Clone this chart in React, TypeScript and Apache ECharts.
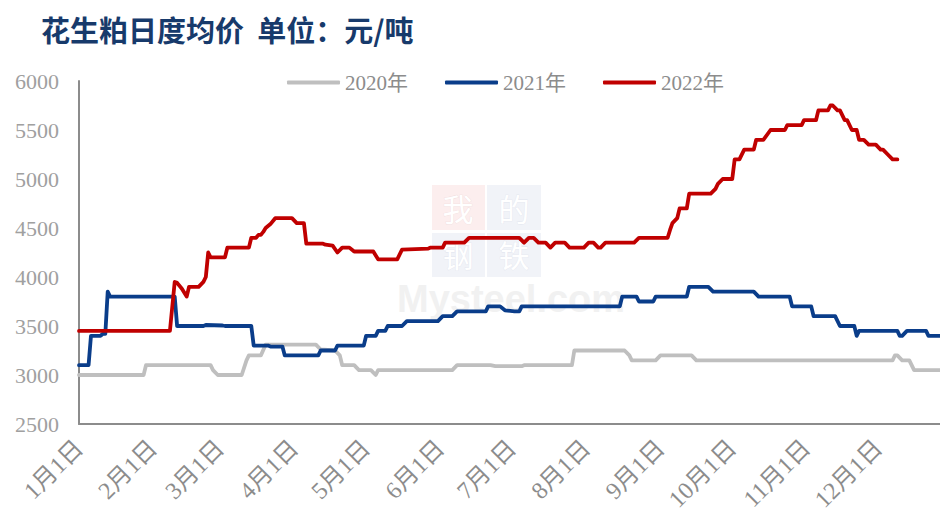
import React, { useEffect, useRef } from "react";
import * as echarts from "echarts";

// Category axis: every day of the year, labelled "M月D日"
const monthLengths = [31, 28, 31, 30, 31, 30, 31, 31, 30, 31, 30, 31];
const dayLabels: string[] = [];
monthLengths.forEach((len, m) => {
  for (let d = 1; d <= len; d++) dayLabels.push(`${m + 1}月${d}日`);
});

const yTicks = { min: 2500, max: 6000, interval: 500 };
const seriesNames = ["2020年", "2021年", "2022年"];

// 2020 (day-of-year index, price) read at visible change points
const days2020 = [0, 27, 28, 55, 56, 58, 68, 70, 71, 76, 78, 99, 101, 107, 109, 110, 115, 117, 122, 124, 125, 156, 158, 172, 174, 185, 186, 206, 207, 228, 230, 231, 241, 243, 256, 258, 340, 341, 342, 344, 347, 349, 364];
const vals2020 = [3000, 3000, 3100, 3100, 3050, 3000, 3000, 3150, 3200, 3200, 3310, 3310, 3260, 3250, 3200, 3100, 3100, 3050, 3050, 3000, 3050, 3050, 3100, 3100, 3090, 3090, 3100, 3100, 3250, 3250, 3200, 3150, 3150, 3200, 3200, 3150, 3150, 3200, 3200, 3150, 3150, 3050, 3050];

// 2021
const days2021 = [0, 4, 5, 9, 10, 11, 12, 13, 40, 41, 52, 53, 60, 61, 72, 73, 79, 80, 85, 86, 100, 101, 107, 108, 119, 120, 124, 125, 128, 129, 135, 137, 150, 152, 156, 158, 170, 171, 176, 178, 182, 184, 185, 226, 227, 233, 234, 240, 241, 254, 255, 263, 265, 282, 284, 297, 298, 306, 307, 316, 318, 324, 325, 326, 342, 343, 344, 346, 354, 355, 364];
const vals2021 = [3100, 3100, 3400, 3400, 3420, 3420, 3850, 3800, 3800, 3500, 3500, 3510, 3505, 3500, 3500, 3300, 3300, 3290, 3290, 3200, 3200, 3250, 3250, 3300, 3300, 3400, 3400, 3450, 3450, 3500, 3500, 3550, 3550, 3600, 3600, 3650, 3650, 3700, 3700, 3660, 3650, 3650, 3700, 3700, 3800, 3800, 3750, 3750, 3800, 3800, 3900, 3900, 3850, 3850, 3800, 3800, 3700, 3700, 3600, 3600, 3500, 3500, 3400, 3450, 3450, 3400, 3400, 3450, 3450, 3400, 3400];

// 2022
const days2022 = [0, 38, 40, 41, 43, 45, 46, 50, 52, 53, 54, 55, 61, 62, 71, 72, 74, 75, 76, 77, 78, 80, 82, 89, 91, 94, 95, 102, 103, 106, 108, 110, 113, 115, 123, 125, 133, 135, 146, 147, 152, 153, 161, 163, 184, 186, 188, 190, 192, 195, 197, 199, 203, 205, 211, 213, 215, 217, 218, 220, 232, 234, 246, 247, 248, 250, 251, 254, 255, 264, 266, 267, 269, 273, 274, 276, 278, 282, 283, 286, 289, 295, 296, 302, 303, 308, 309, 313, 314, 315, 317, 318, 320, 321, 323, 325, 326, 328, 330, 333, 335, 336, 338, 340, 342];
const vals2022 = [3450, 3450, 3950, 3940, 3880, 3800, 3900, 3900, 3950, 4000, 4250, 4200, 4200, 4300, 4300, 4400, 4400, 4430, 4430, 4460, 4500, 4540, 4600, 4600, 4550, 4550, 4340, 4340, 4330, 4320, 4250, 4300, 4300, 4260, 4260, 4180, 4180, 4280, 4290, 4300, 4300, 4350, 4350, 4400, 4400, 4350, 4400, 4400, 4350, 4350, 4300, 4350, 4350, 4300, 4300, 4350, 4350, 4300, 4300, 4350, 4350, 4400, 4400, 4480, 4550, 4600, 4700, 4700, 4850, 4850, 4900, 4950, 5000, 5000, 5200, 5200, 5300, 5300, 5400, 5400, 5500, 5500, 5550, 5550, 5600, 5600, 5700, 5700, 5750, 5750, 5700, 5700, 5600, 5600, 5500, 5500, 5400, 5400, 5350, 5350, 5300, 5300, 5250, 5200, 5200];

const colors = ["#BFBFBF", "#0A3D8A", "#C00000"];

const toData = (days: number[], vals: number[]) =>
  days.map((d, i) => [dayLabels[d], vals[i]]);

const serifFont = "'Liberation Serif', 'Noto Sans CJK SC', serif";

export default function App() {
  const ref = useRef<HTMLDivElement>(null);
  useEffect(() => {
    if (!ref.current) return;
    const chart = echarts.init(ref.current, undefined, { renderer: "svg" });
    const seriesData = [toData(days2020, vals2020), toData(days2021, vals2021), toData(days2022, vals2022)];
    const wmChar = (text: string, x: number, y: number, stroke: string) => ({
      type: "text",
      x,
      y,
      silent: true,
      style: {
        text,
        fontSize: 31,
        fill: "#FFFFFF",
        stroke,
        lineWidth: 0.6,
        align: "center",
        verticalAlign: "middle",
        fontFamily: "'Noto Sans CJK SC'",
      },
    });
    chart.setOption({
      animation: false,
      backgroundColor: "#ffffff",
      title: {
        text: "花生粕日度均价  单位：元/吨",
        left: 41,
        top: 14,
        padding: 0,
        textStyle: {
          fontSize: 29,
          fontWeight: "bold",
          color: "#173A6B",
          fontFamily: "'Noto Sans CJK SC', sans-serif",
        },
      },
      legend: {
        data: seriesNames,
        left: 287,
        top: 72,
        padding: 0,
        itemWidth: 53,
        itemHeight: 4,
        itemGap: 37,
        icon: "roundRect",
        textStyle: { fontSize: 21, color: "#8C8C8C", fontFamily: serifFont },
      },
      graphic: [
        { type: "rect", shape: { x: 432, y: 185, width: 53, height: 45 }, style: { fill: "#FCEEEE" }, silent: true },
        { type: "rect", shape: { x: 487, y: 185, width: 54, height: 45 }, style: { fill: "#F1F3F8" }, silent: true },
        { type: "rect", shape: { x: 432, y: 233, width: 53, height: 44 }, style: { fill: "#F1F3F8" }, silent: true },
        { type: "rect", shape: { x: 487, y: 233, width: 54, height: 44 }, style: { fill: "#F1F3F8" }, silent: true },
        wmChar("我", 458, 207, "#F0DCDC"),
        wmChar("的", 514, 207, "#E1E5EE"),
        wmChar("钢", 458, 253, "#E1E5EE"),
        wmChar("铁", 514, 253, "#E1E5EE"),
        {
          type: "text",
          x: 397,
          y: 280,
          silent: true,
          style: {
            text: "Mysteel.com",
            fontSize: 38,
            fontWeight: "bold",
            fill: "#F1F1F1",
            verticalAlign: "top",
            fontFamily: "'Liberation Sans', Arial, sans-serif",
          },
        },
      ],
      grid: { left: 79, right: -10, top: 81, bottom: 89, containLabel: false, outerBoundsMode: "none" },
      xAxis: {
        type: "category",
        data: dayLabels,
        boundaryGap: false,
        axisLine: { show: true, lineStyle: { color: "#8C8C8C", width: 2 } },
        axisTick: { show: false },
        splitLine: { show: false },
        axisLabel: {
          interval: (_i: number, v: string) => /^\d+月1日$/.test(v),
          rotate: 45,
          margin: 20,
          fontSize: 24,
          color: "#8C8C8C",
          fontFamily: serifFont,
        },
      },
      yAxis: {
        type: "value",
        min: yTicks.min,
        max: yTicks.max,
        interval: yTicks.interval,
        axisLine: { show: true, lineStyle: { color: "#8C8C8C", width: 2 } },
        axisTick: { show: false },
        splitLine: { show: false },
        axisLabel: {
          margin: 20,
          fontSize: 22,
          color: "#A0A0A0",
          fontFamily: serifFont,
          formatter: (v: number) => String(v),
        },
      },
      series: seriesNames.map((name, i) => ({
        name,
        type: "line",
        data: seriesData[i],
        showSymbol: false,
        symbol: "none",
        lineStyle: { width: 3.8, color: colors[i], cap: "round", join: "round" },
        itemStyle: { color: colors[i] },
        z: 2 + i,
      })),
    });
    return () => chart.dispose();
  }, []);
  return (
    <div
      ref={ref}
      style={{ position: "fixed", left: 0, top: 0, width: 940, height: 513, background: "#fff" }}
    />
  );
}
